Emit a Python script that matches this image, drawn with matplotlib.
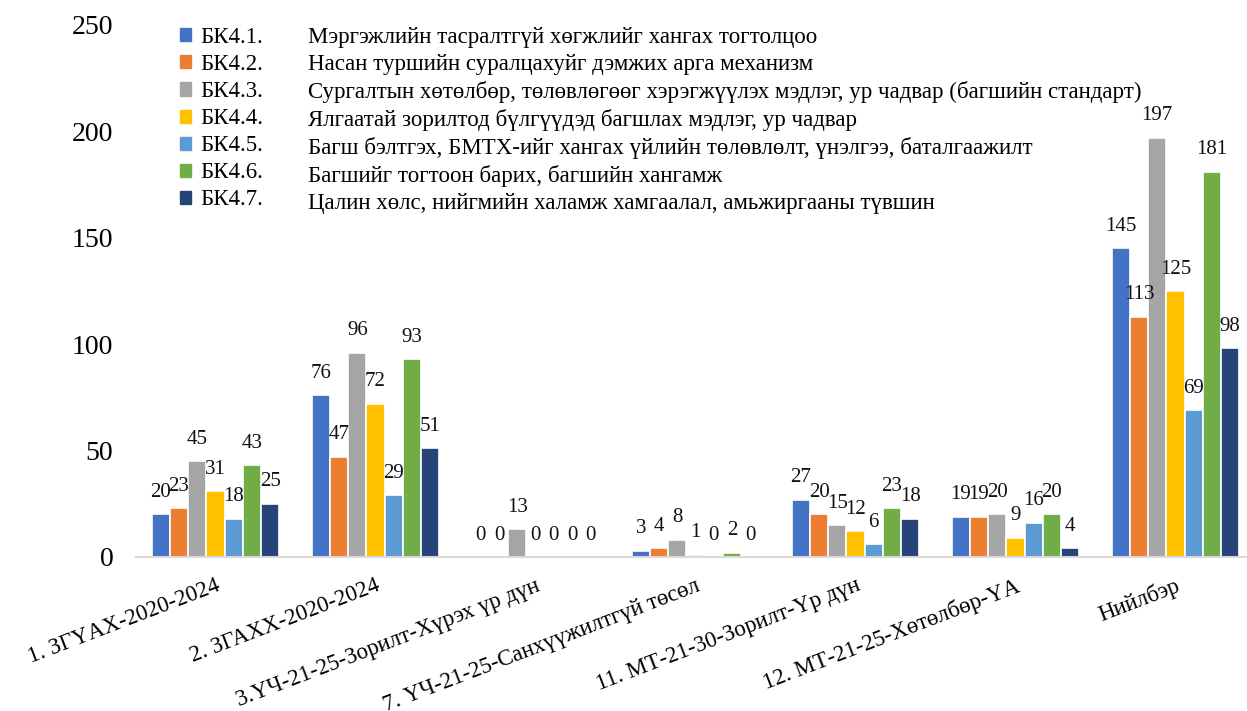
import numpy as np
import matplotlib
matplotlib.use("Agg")
import matplotlib.pyplot as plt
from matplotlib.patches import Rectangle

# --------------------------------------------------
# Data
# --------------------------------------------------

categories = [
    "1. ЗГҮАХ-2020-2024",
    "2. ЗГАХХ-2020-2024",
    "3.ҮЧ-21-25-Зорилт-Хүрэх үр дүн",
    "7. ҮЧ-21-25-Санхүүжилтгүй төсөл",
    "11. МТ-21-30-Зорилт-Үр дүн",
    "12. МТ-21-25-Хөтөлбөр-ҮА",
    "Нийлбэр",
]

codes = ["БК4.1.", "БК4.2.", "БК4.3.", "БК4.4.", "БК4.5.", "БК4.6.", "БК4.7."]

descriptions = [
    "Мэргэжлийн тасралтгүй хөгжлийг хангах тогтолцоо",
    "Насан туршийн суралцахуйг дэмжих арга механизм",
    "Сургалтын хөтөлбөр, төлөвлөгөөг хэрэгжүүлэх мэдлэг, ур чадвар (багшийн стандарт)",
    "Ялгаатай зорилтод бүлгүүдэд багшлах мэдлэг, ур чадвар",
    "Багш бэлтгэх, БМТХ-ийг хангах үйлийн төлөвлөлт, үнэлгээ, баталгаажилт",
    "Багшийг тогтоон барих, багшийн хангамж",
    "Цалин хөлс, нийгмийн халамж хамгаалал, амьжиргааны түвшин",
]

bk41 = [20, 76, 0, 3, 27, 19, 145]
bk42 = [23, 47, 0, 4, 20, 19, 113]
bk43 = [45, 96, 13, 8, 15, 20, 197]
bk44 = [31, 72, 0, 1, 12, 9, 125]
bk45 = [18, 29, 0, 0, 6, 16, 69]
bk46 = [43, 93, 0, 2, 23, 20, 181]
bk47 = [25, 51, 0, 0, 18, 4, 98]

series = [bk41, bk42, bk43, bk44, bk45, bk46, bk47]

colors = ["#4472C4", "#ED7D31", "#A5A5A5", "#FFC000", "#5B9BD5", "#70AD47", "#264478"]

# --------------------------------------------------
# Figure
# --------------------------------------------------

plt.rcParams["font.family"] = ["Liberation Serif", "DejaVu Serif"]

W, H = 1247, 711
fig = plt.figure(figsize=(W / 100, H / 100), dpi=100)

# plot area in pixels (the reference is cut a little on the right)
left, right = 135.5, 1255.5
bottom, top = 557, 25
ax = fig.add_axes([left / W, 1 - bottom / H, (right - left) / W, (bottom - top) / H])

x = np.arange(len(categories))
bar_w = 0.114
n = len(series)

for i, (vals, col) in enumerate(zip(series, colors)):
    pos = x + (i - (n - 1) / 2) * bar_w
    bars = ax.bar(pos, vals, width=bar_w, color=col, edgecolor="white", linewidth=1.2)
    for b, v in zip(bars, vals):
        ax.annotate(str(v), (b.get_x() + b.get_width() / 2, v),
                    xytext=(0, 9), textcoords="offset points",
                    ha="center", va="bottom", fontsize=15, color="#111111")

ax.set_xlim(-0.5, len(categories) - 0.5)
ax.set_ylim(0, 250)
ax.set_yticks([0, 50, 100, 150, 200, 250])

ax.set_xticks(x)
ax.set_xticklabels(categories, rotation=21, ha="right", va="top",
                   rotation_mode="anchor", fontsize=16.5)

ax.tick_params(axis="y", length=0, pad=16, labelsize=20)
ax.tick_params(axis="x", length=0, pad=13)

for s in ["top", "right", "left"]:
    ax.spines[s].set_visible(False)
ax.spines["bottom"].set_color("#D9D9D9")
ax.spines["bottom"].set_linewidth(1.5)

# --------------------------------------------------
# Legend (codes with colour squares + descriptions)
# --------------------------------------------------

handles = [Rectangle((0, 0), 1, 1, color=c) for c in colors]
leg_kw = dict(loc="upper left", frameon=False, fontsize=16.5, borderpad=0,
              borderaxespad=0, labelspacing=0.265, handleheight=0.5)

leg1 = fig.legend(handles, codes, bbox_to_anchor=(180 / W, 1 - 27 / H),
                  handlelength=0.5, handletextpad=0.4, **leg_kw)
blank = [Rectangle((0, 0), 1, 1, visible=False) for _ in descriptions]
leg2 = fig.legend(blank, descriptions, bbox_to_anchor=(308 / W, 1 - 27 / H),
                  handlelength=0, handletextpad=0, **leg_kw)

fig.savefig("out.png", dpi=100)
